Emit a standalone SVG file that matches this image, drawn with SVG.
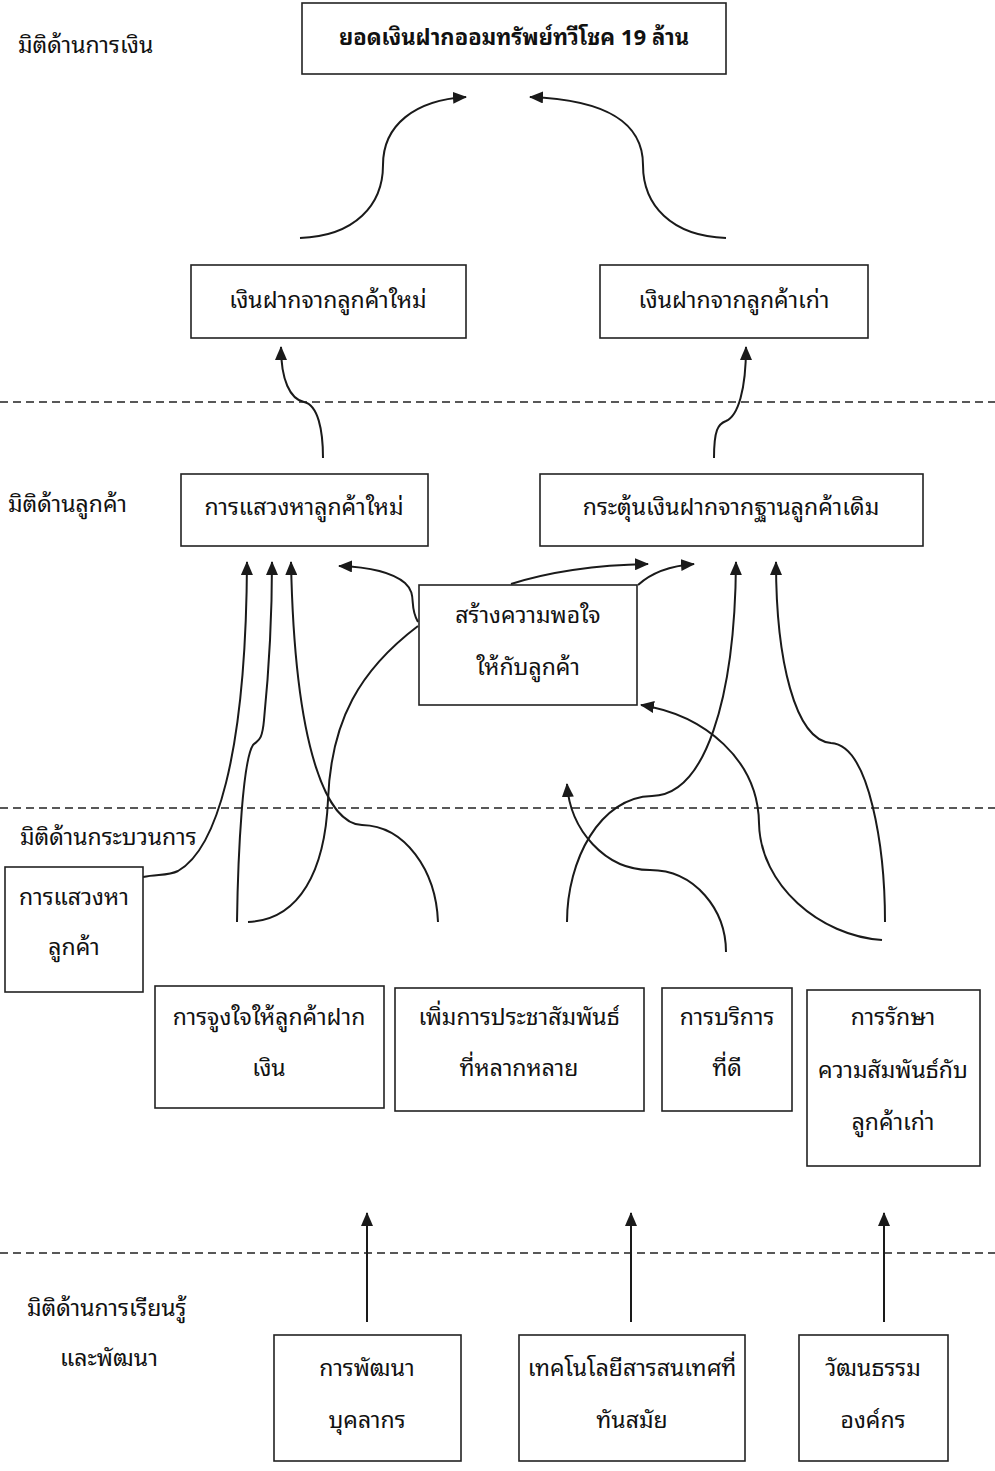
<svg xmlns="http://www.w3.org/2000/svg" width="995" height="1471" viewBox="0 0 995 1471">
<defs>
<style>
.box{fill:#fff;stroke:#222;stroke-width:1.6}
.t{font-family:"Noto Sans Thai Looped","Noto Sans Thai","Noto Sans","DejaVu Sans",sans-serif;font-size:23px;fill:#111;text-anchor:middle}
.l{font-family:"Noto Sans Thai Looped","Noto Sans Thai","Noto Sans","DejaVu Sans",sans-serif;font-size:23px;fill:#111}
.b{font-weight:bold;font-size:22px}
.c{fill:none;stroke:#1a1a1a;stroke-width:2}
.d{fill:none;stroke:#222;stroke-width:1.5;stroke-dasharray:8,5}
</style>
<marker id="ah" viewBox="0 0 14 12" refX="13" refY="6" markerWidth="14" markerHeight="12" markerUnits="userSpaceOnUse" orient="auto">
<path d="M0,0 L14,6 L0,12 z" fill="#1a1a1a"/>
</marker>
</defs>
<rect width="995" height="1471" fill="#fff"/>

<g id="dividers">
<line class="d" x1="0" y1="402" x2="995" y2="402"/>
<line class="d" x1="0" y1="808" x2="995" y2="808"/>
<line class="d" x1="0" y1="1253" x2="995" y2="1253"/>
</g>

<g id="labels">
<text class="l" x="18" y="53">มิติด้านการเงิน</text>
<text class="l" x="8" y="512">มิติด้านลูกค้า</text>
<text class="l" x="20" y="845">มิติด้านกระบวนการ</text>
<text class="l" x="27" y="1316">มิติด้านการเรียนรู้</text>
<text class="l" x="60" y="1366">และพัฒนา</text>
</g>

<g id="connectors">
<path class="c" marker-end="url(#ah)" d="M300,238 C355,236 383,205 383,165 C383,125 415,100 466,97"/>
<path class="c" marker-end="url(#ah)" d="M726,238 C671,236 643,205 643,165 C643,125 611,100 530,97"/>
<path class="c" marker-end="url(#ah)" d="M323,458 C323,430 318,405 304,402 C290,399 281,380 281,347"/>
<path class="c" marker-end="url(#ah)" d="M714,458 C714,430 718,424 726,421 C738,416 746,390 746,347"/>
<path class="c" marker-end="url(#ah)" d="M143,877 C158,874 168,876 178,871 C215,850 246,760 247,562"/>
<path class="c" marker-end="url(#ah)" d="M237,922 C238,850 243,760 253,745 C258,740 262,742 264,720 C270,660 272,620 272,562"/>
<path class="c" marker-end="url(#ah)" d="M438,922 C436,870 405,826 362,825 C330,824 295,760 291,562"/>
<path class="c" marker-end="url(#ah)" d="M418,622 C408,605 418,595 405,583 C392,572 370,567 339,566"/>
<path class="c" d="M248,922 C300,920 325,870 328,800 C331,720 360,670 418,626"/>
<path class="c" marker-end="url(#ah)" d="M511,584 C555,570 600,565 648,564"/>
<path class="c" marker-end="url(#ah)" d="M638,585 C650,574 668,566 694,564"/>
<path class="c" marker-end="url(#ah)" d="M567,922 C567,860 600,797 652,796 C705,795 735,700 736,562"/>
<path class="c" marker-end="url(#ah)" d="M885,922 C885,850 870,745 831,743 C795,740 776,660 776,562"/>
<path class="c" marker-end="url(#ah)" d="M882,940 C820,936 760,885 759,823 C758,760 705,715 641,705"/>
<path class="c" marker-end="url(#ah)" d="M726,952 C726,910 695,870 650,870 C605,870 570,830 567,784"/>
<path class="c" marker-end="url(#ah)" d="M367,1322 L367,1213"/>
<path class="c" marker-end="url(#ah)" d="M631,1322 L631,1213"/>
<path class="c" marker-end="url(#ah)" d="M884,1322 L884,1213"/>
</g>

<g id="n-total">
<rect class="box" x="302" y="3" width="424" height="71"/>
<text class="t b" x="514" y="45">ยอดเงินฝากออมทรัพย์ทวีโชค 19 ล้าน</text>
</g>
<g id="n-new-deposit">
<rect class="box" x="191" y="265" width="275" height="73"/>
<text class="t" x="328" y="308">เงินฝากจากลูกค้าใหม่</text>
</g>
<g id="n-old-deposit">
<rect class="box" x="600" y="265" width="268" height="73"/>
<text class="t" x="734" y="308">เงินฝากจากลูกค้าเก่า</text>
</g>
<g id="n-find-new">
<rect class="box" x="181" y="474" width="247" height="72"/>
<text class="t" x="304" y="515">การแสวงหาลูกค้าใหม่</text>
</g>
<g id="n-stimulate">
<rect class="box" x="540" y="474" width="383" height="72"/>
<text class="t" x="731" y="515">กระตุ้นเงินฝากจากฐานลูกค้าเดิม</text>
</g>
<g id="n-satisfaction">
<rect class="box" x="419" y="585" width="218" height="120"/>
<text class="t" x="528" y="623">สร้างความพอใจ</text>
<text class="t" x="528" y="675">ให้กับลูกค้า</text>
</g>
<g id="n-seek">
<rect class="box" x="5" y="867" width="138" height="125"/>
<text class="t" x="74" y="905">การแสวงหา</text>
<text class="t" x="74" y="955">ลูกค้า</text>
</g>
<g id="n-motivate">
<rect class="box" x="155" y="986" width="229" height="122"/>
<text class="t" x="269" y="1025">การจูงใจให้ลูกค้าฝาก</text>
<text class="t" x="269" y="1076">เงิน</text>
</g>
<g id="n-pr">
<rect class="box" x="395" y="988" width="249" height="123"/>
<text class="t" x="519" y="1025">เพิ่มการประชาสัมพันธ์</text>
<text class="t" x="519" y="1076">ที่หลากหลาย</text>
</g>
<g id="n-service">
<rect class="box" x="662" y="988" width="130" height="123"/>
<text class="t" x="727" y="1025">การบริการ</text>
<text class="t" x="727" y="1076">ที่ดี</text>
</g>
<g id="n-retain">
<rect class="box" x="807" y="990" width="173" height="176"/>
<text class="t" x="893" y="1025">การรักษา</text>
<text class="t" x="893" y="1078">ความสัมพันธ์กับ</text>
<text class="t" x="893" y="1130">ลูกค้าเก่า</text>
</g>
<g id="n-staff">
<rect class="box" x="274" y="1335" width="187" height="126"/>
<text class="t" x="367" y="1376">การพัฒนา</text>
<text class="t" x="367" y="1428">บุคลากร</text>
</g>
<g id="n-it">
<rect class="box" x="519" y="1335" width="226" height="126"/>
<text class="t" x="632" y="1376">เทคโนโลยีสารสนเทศที่</text>
<text class="t" x="632" y="1428">ทันสมัย</text>
</g>
<g id="n-culture">
<rect class="box" x="799" y="1335" width="149" height="126"/>
<text class="t" x="873" y="1376">วัฒนธรรม</text>
<text class="t" x="873" y="1428">องค์กร</text>
</g>
</svg>
